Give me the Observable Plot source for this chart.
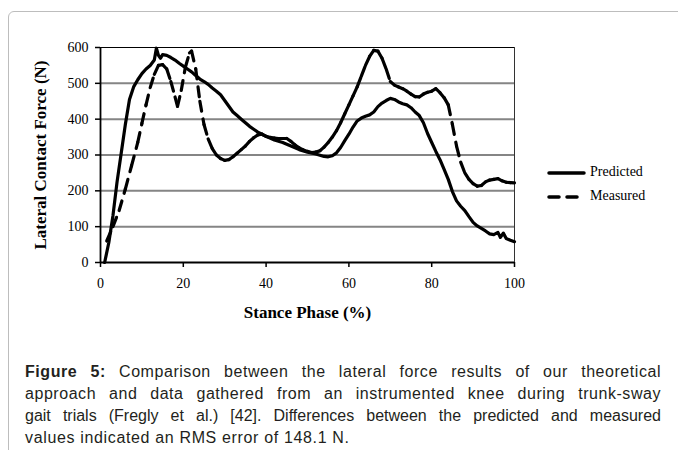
<!DOCTYPE html>
<html>
<head>
<meta charset="utf-8">
<script src="https://cdn.jsdelivr.net/npm/d3@7"></script>
<script src="https://cdn.jsdelivr.net/npm/@observablehq/plot@0.6"></script>
<style>
  html, body { margin: 0; padding: 0; background: #fff; }
  body { width: 678px; height: 450px; position: relative; overflow: hidden; }
  #frame { position: absolute; left: 8px; top: 11px; width: 720px; height: 520px;
           border: 1px solid #bdbdbd; border-radius: 6px; box-sizing: border-box; }
  #chart { position: absolute; left: 0; top: 0; }
  #legend { position: absolute; left: 546px; top: 160px; font-family: "Liberation Serif", serif;
            font-size: 14px; color: #000; }
  #legend .row { position: relative; height: 24px; }
  #legend svg { position: absolute; left: 0; top: 0; }
  #legend span { position: absolute; left: 44px; top: 4px; }
  #caption { position: absolute; left: 25px; top: 361px; width: 636px;
             font-family: "Liberation Sans", Arial, sans-serif; font-size: 16px; line-height: 22px; color: #231f20; }
  #caption div { text-align: justify; text-align-last: justify; white-space: nowrap; letter-spacing: 0.55px; }
  #caption div.tight { letter-spacing: 0; }
  #caption div.last { text-align-last: left; letter-spacing: 0.65px; }
</style>
</head>
<body>
<div id="frame"></div>
<div id="chart"></div>
<div id="legend"></div>
<div id="caption">
  <div><b>Figure 5:</b> Comparison between the lateral force results of our theoretical</div>
  <div>approach and data gathered from an instrumented knee during trunk-sway</div>
  <div class="tight">gait trials (Fregly et al.) [42]. Differences between the predicted and measured</div>
  <div class="last">values indicated an RMS error of 148.1 N.</div>
</div>
<script>
// ---- data ----
const xTicks = [0, 20, 40, 60, 80, 100];
const yTicks = [0, 100, 200, 300, 400, 500, 600];
const gridValues = [100, 200, 300, 400, 500];
const seriesNames = ["Predicted", "Measured"];

const predX = [1,2,3,4,5,6,7,8,9,10,11,12,13,13.5,14,14.5,15,16,17,18,19,20,21,22,23,24,25,26,27,28,29,30,31,32,33,34,35,36,37,38,39,40,42,44,46,48,50,52,54,55,56,57,58,59,60,61,62,63,64,65,66,67,68,69,70,71,72,73,74,75,76,77,78,79,80,81,82,83,84,85,86,87,88,89,90,91,92,93,94,95,96,96.6,97.3,98,99,100];
const predY = [0,55,130,225,305,385,455,490,510,527,540,550,565,598,578,570,580,578,572,565,556,548,540,532,522,512,505,497,487,478,468,452,436,420,410,400,390,380,372,364,358,352,342,335,325,315,308,303,296,295,298,306,321,340,358,378,395,403,408,412,420,435,445,452,458,455,448,443,440,432,420,410,390,360,335,310,287,260,232,198,172,157,145,128,112,102,95,88,80,78,84,70,82,67,62,58];

const measX = [1.5,3,4.5,6,7.5,9,10,11,12,13,14,15,16,17,18,18.6,19.5,20.5,21.5,22,23,24,25,26,27,28,29,30,31,32,33,34,35,36,37,38,39,40,41,42,43,44,45,46,47,48,49,50,51,52,53,54,55,56,57,58,59,60,61,62,63,64,65,66,67,68,69,70,71,72,73,74,75,76,77,78,79,80,81,82,83,84,85,86,87,88,89,90,91,92,93,94,95,96,97,98,99,100];
const measY = [60,100,145,205,270,335,388,440,488,525,550,552,540,505,462,436,480,545,585,590,540,450,385,345,318,300,290,285,287,295,305,315,325,338,348,356,358,352,349,347,346,346,346,338,328,320,314,310,307,308,312,322,335,350,368,390,415,440,465,490,520,550,575,592,590,570,540,505,495,490,485,478,470,463,462,470,475,478,485,474,460,440,385,325,280,250,232,220,213,215,225,230,232,234,228,224,223,222];

// ---- build tables ----
const pred = predX.map((x, i) => ({x, y: predY[i]}));
const meas = measX.map((x, i) => ({x, y: measY[i]}));
// consecutive segments for the dashed series (dash pattern restarts per segment)
const measSegs = meas.slice(1).map((d, i) => ({x1: meas[i].x, y1: meas[i].y, x2: d.x, y2: d.y}));

const serif = "'Liberation Serif', 'Times New Roman', serif";

const plot = Plot.plot({
  width: 678,
  height: 340,
  marginLeft: 100,
  marginRight: 164,
  marginTop: 47,
  marginBottom: 78,
  style: {fontFamily: serif, fontSize: "14px", color: "#000", background: "transparent"},
  x: {domain: [0, 100]},
  y: {domain: [0, 600]},
  marks: [
    Plot.ruleY(gridValues, {stroke: "#858585", strokeWidth: 2}),
    Plot.ruleY([600], {stroke: "#000", strokeWidth: 1}),
    Plot.ruleX([100], {stroke: "#333", strokeWidth: 1}),
    Plot.axisY({ticks: yTicks, tickSize: 5, tickPadding: 7, label: null, stroke: "#000", strokeWidth: 1.5, fontSize: 14}),
    Plot.axisX({ticks: xTicks, tickSize: 5, tickPadding: 11, label: null, stroke: "#000", strokeWidth: 1.5, fontSize: 14}),
    Plot.ruleX([0], {stroke: "#000", strokeWidth: 1.8}),
    Plot.ruleY([0], {stroke: "#000", strokeWidth: 1.8}),
    Plot.line(pred, {x: "x", y: "y", stroke: "#000", strokeWidth: 3.2, strokeLinejoin: "round", strokeLinecap: "round"}),
    Plot.link(measSegs, {x1: "x1", y1: "y1", x2: "x2", y2: "y2", stroke: "#000", strokeWidth: 3.2,
      strokeDasharray: "10,8", strokeLinecap: "round"}),
    Plot.text(["Lateral Contact Force (N)"], {frameAnchor: "left", text: d => d, rotate: -90, dx: -60,
      textAnchor: "middle", lineAnchor: "middle", fontWeight: "bold", fontSize: 17, fontFamily: serif}),
    Plot.text(["Stance Phase (%)"], {frameAnchor: "bottom", text: d => d, dy: 50,
      textAnchor: "middle", lineAnchor: "middle", fontWeight: "bold", fontSize: 17, fontFamily: serif})
  ]
});
document.getElementById("chart").appendChild(plot);

// ---- legend ----
const legend = document.getElementById("legend");
seriesNames.forEach((name, i) => {
  const row = document.createElement("div");
  row.className = "row";
  const dash = i === 1 ? 'stroke-dasharray="10,8"' : '';
  row.innerHTML = `<svg width="42" height="24"><line x1="3" y1="13" x2="${i === 1 ? 34 : 38}" y2="13" stroke="#000" stroke-width="3.5" stroke-linecap="round" ${dash}/></svg><span>${name}</span>`;
  legend.appendChild(row);
});
</script>
</body>
</html>
